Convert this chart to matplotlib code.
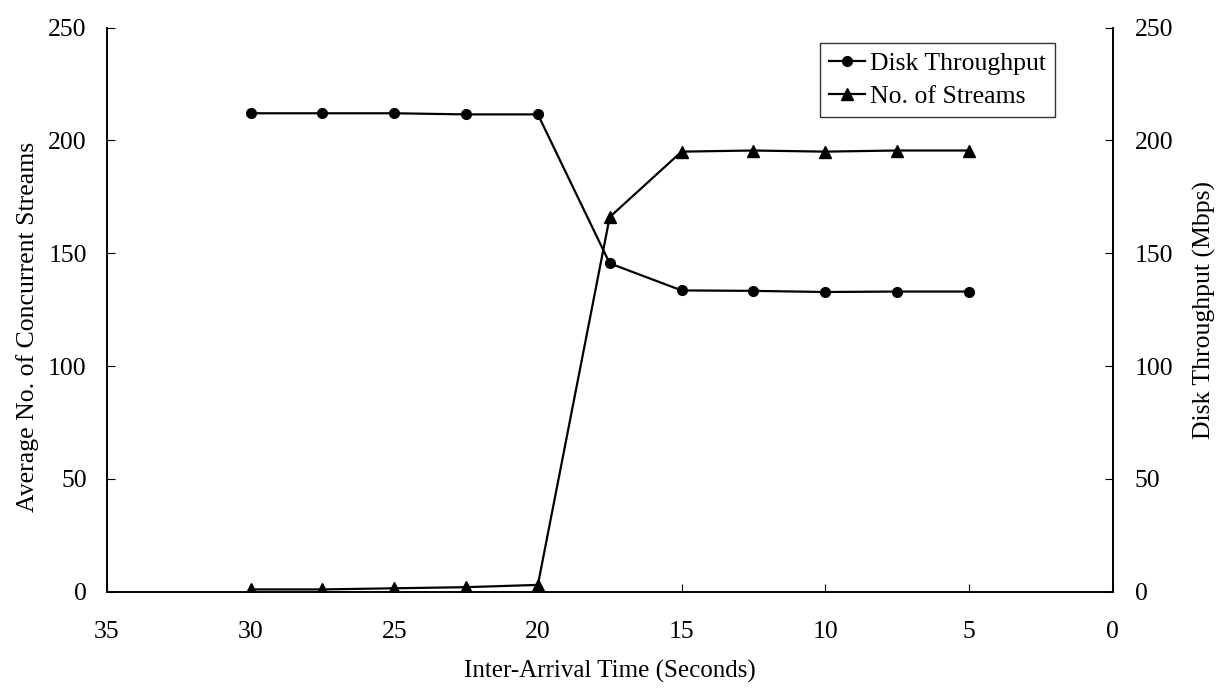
import matplotlib
matplotlib.use("Agg")
import matplotlib.pyplot as plt

plt.rcParams['font.family'] = ['Liberation Serif', 'DejaVu Serif']

# inter-arrival time (s)
arrival = [30, 27.5, 25, 22.5, 20, 17.5, 15, 12.5, 10, 7.5, 5]
# average number of concurrent streams (left axis)
streams = [1, 1, 1.5, 2, 3, 166, 195, 195.5, 195, 195.5, 195.5]
# disk throughput in Mbps (right axis)
throughput = [212, 212, 212, 211.5, 211.5, 145.5, 133.5, 133.3, 132.8, 133, 133]

fig = plt.figure(figsize=(12.28, 6.88), dpi=100)
ax = fig.add_axes([0.087, 0.14, 0.819, 0.82])
ax2 = ax.twinx()

l1, = ax2.plot(arrival, throughput, 'k-', marker='o', ms=7, lw=1.6, label='Disk Throughput')
l2, = ax.plot(arrival, streams, 'k-', marker='^', ms=8.5, lw=1.6, label='No. of Streams')

for a in (ax, ax2):
    a.set_ylim(0, 250)
    a.set_yticks(range(0, 251, 50))
    a.spines['top'].set_visible(False)
    for s in a.spines.values():
        s.set_linewidth(1.2)
ax.set_xlim(35, 0)
ax.set_xticks(range(35, -1, -5))

ax.tick_params(axis='x', direction='in', length=6, labelsize=18.5, pad=21)
ax.tick_params(axis='y', direction='in', length=6, labelsize=18.5, pad=14.5)
ax2.tick_params(axis='y', direction='in', length=6, labelsize=18.5, pad=16)

ax.set_xlabel('Inter-Arrival Time (Seconds)', fontsize=18, labelpad=12)
ax.set_ylabel('Average No. of Concurrent Streams', fontsize=18.5, labelpad=7)
ax.yaxis.set_label_coords(-0.067, 0.47)
ax2.set_ylabel('Disk Throughput (Mbps)', fontsize=18.5, labelpad=14)

leg = ax2.legend(handles=[l1, l2], loc='upper right', bbox_to_anchor=(0.943, 0.973),
                 fontsize=18.5, frameon=True, fancybox=False, edgecolor='black',
                 handlelength=1.4, handletextpad=0.2, borderpad=0.35, labelspacing=0.4,
                 borderaxespad=0)
leg.get_frame().set_linewidth(1.0)

fig.savefig('out.png', dpi=100)
